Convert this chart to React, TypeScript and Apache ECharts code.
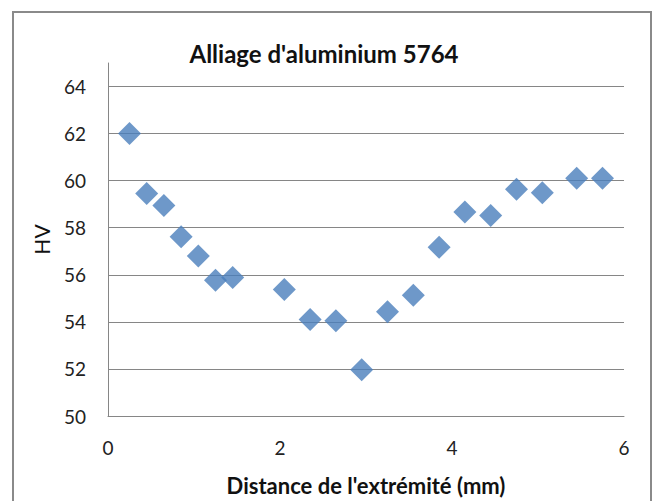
import React, { useEffect, useRef } from "react";
import * as echarts from "echarts";

const distances = [0.25, 0.45, 0.65, 0.85, 1.05, 1.25, 1.45, 2.05, 2.35, 2.65, 2.95, 3.25, 3.55, 3.85, 4.15, 4.45, 4.75, 5.05, 5.45, 5.75];
const hardness = [62.0, 59.45, 58.95, 57.62, 56.8, 55.77, 55.88, 55.38, 54.1, 54.05, 51.96, 54.43, 55.13, 57.17, 58.67, 58.52, 59.64, 59.49, 60.1, 60.1];
const xTicks = { min: 0, max: 6, interval: 2 };
const yTicks = { min: 50, max: 65, interval: 2 };

const FONT = "Lato, 'Open Sans', sans-serif";

export default function App() {
  const ref = useRef<HTMLDivElement>(null);
  useEffect(() => {
    document.body.style.margin = "0";
    if (!ref.current) return;
    const chart = echarts.init(ref.current, null, { renderer: "svg" });
    const points = distances.map((d, i) => [d, hardness[i]]);
    const gridColors = ["#868686", "#868686", "#868686", "#868686", "#868686", "#868686", "#868686", "#868686", "transparent"];
    chart.setOption({
      animation: false,
      backgroundColor: "#ffffff",
      textStyle: { fontFamily: FONT },
      title: {
        text: "Alliage d'aluminium 5764",
        left: 319,
        top: 36,
        textAlign: "center",
        textStyle: { fontFamily: FONT, fontWeight: "bold", fontSize: 24, color: "#111" },
      },
      graphic: [
        {
          type: "rect",
          shape: { x: 13, y: 12, width: 638, height: 520 },
          style: { fill: "none", stroke: "#8a8a8a", lineWidth: 2 },
          silent: true,
        },
      ],
      grid: { left: 108, right: 34, top: 63, bottom: 83, containLabel: false },
      xAxis: {
        type: "value",
        min: xTicks.min,
        max: xTicks.max,
        interval: xTicks.interval,
        name: "Distance de l'extrémité (mm)",
        nameLocation: "middle",
        nameGap: 58,
        nameTextStyle: { fontFamily: FONT, fontWeight: "bold", fontSize: 22, color: "#111" },
        axisLine: { show: true, lineStyle: { color: "#868686", width: 1 } },
        axisTick: { show: false },
        splitLine: { show: false },
        axisLabel: { fontFamily: FONT, fontSize: 19, color: "#222", margin: 22 },
      },
      yAxis: {
        type: "value",
        min: yTicks.min,
        max: yTicks.max,
        interval: yTicks.interval,
        name: "HV",
        nameLocation: "middle",
        nameGap: 56,
        nameRotate: 90,
        nameTextStyle: { fontFamily: FONT, fontSize: 21, color: "#111" },
        axisLine: { show: true, lineStyle: { color: "#868686", width: 1 } },
        axisTick: { show: false },
        splitLine: { show: true, lineStyle: { color: gridColors, width: 1 } },
        axisLabel: { fontFamily: FONT, fontSize: 19, color: "#222", margin: 22, showMaxLabel: false },
      },
      series: [
        {
          type: "scatter",
          data: points,
          symbol: "diamond",
          symbolSize: [23, 23],
          itemStyle: { color: "#4A7EBB" },
        },
      ],
    });
    return () => chart.dispose();
  }, []);
  return <div ref={ref} style={{ width: 658, height: 501 }} />;
}
